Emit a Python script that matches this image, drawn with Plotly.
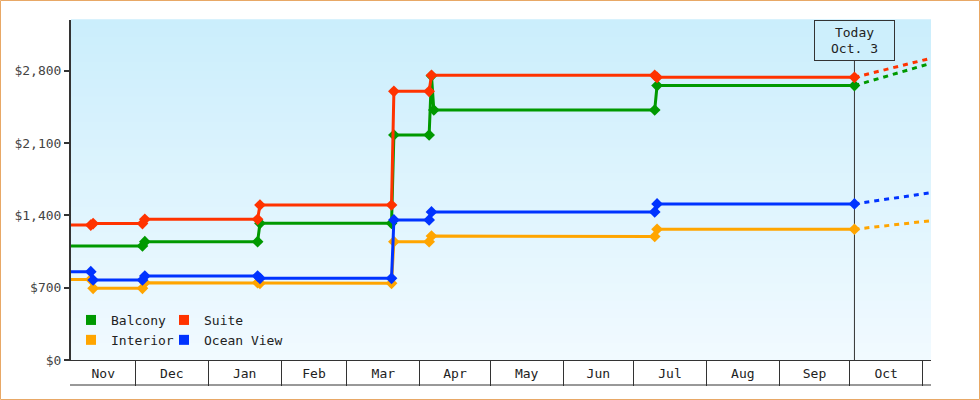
import pandas as pd
import plotly.graph_objects as go

# ---------------- data ----------------
series_names = ["Balcony", "Suite", "Interior", "Ocean View"]
series_colors = ["#009900", "#ff3300", "#ffa500", "#0033ff"]

balcony_dates = ["2024-11-03", "2024-12-04", "2024-12-05", "2025-01-22", "2025-01-23",
                 "2025-03-20", "2025-03-21", "2025-04-05", "2025-04-06", "2025-04-07",
                 "2025-07-10", "2025-07-11", "2025-10-03"]
balcony_prices = [1103, 1103, 1145, 1145, 1323, 1323, 2177, 2177, 2750, 2419, 2419, 2655, 2655]

suite_dates = ["2024-11-03", "2024-11-12", "2024-11-13", "2024-12-04", "2024-12-05",
               "2025-01-22", "2025-01-23", "2025-03-20", "2025-03-21", "2025-04-05",
               "2025-04-06", "2025-07-10", "2025-07-11", "2025-10-03"]
suite_prices = [1306, 1306, 1320, 1320, 1361, 1361, 1500, 1500, 2600, 2600, 2755, 2755, 2735, 2735]

interior_dates = ["2024-11-03", "2024-11-12", "2024-11-13", "2024-12-04", "2024-12-05",
                  "2025-01-22", "2025-01-23", "2025-03-20", "2025-03-21", "2025-04-05",
                  "2025-04-06", "2025-07-10", "2025-07-11", "2025-10-03"]
interior_prices = [780, 780, 694, 694, 748, 748, 742, 742, 1145, 1145, 1200, 1195, 1265, 1265]

ocean_dates = ["2024-11-03", "2024-11-12", "2024-11-13", "2024-12-04", "2024-12-05",
               "2025-01-22", "2025-01-23", "2025-03-20", "2025-03-21", "2025-04-05",
               "2025-04-06", "2025-07-10", "2025-07-11", "2025-10-03"]
ocean_prices = [855, 855, 774, 774, 813, 813, 790, 790, 1355, 1355, 1433, 1433, 1510, 1510]

# forecast (dashed) from today to the end of the visible range
today = "2025-10-03"
today_label = "Today<br>Oct. 3"
forecast_end = "2025-11-04 14:00"
forecast_end_prices = [2871, 2920, 1348, 1619]  # Balcony, Suite, Interior, Ocean View

month_labels = ["Nov", "Dec", "Jan", "Feb", "Mar", "Apr", "May", "Jun", "Jul", "Aug", "Sep", "Oct"]
y_ticks = [0, 700, 1400, 2100, 2800]
y_tick_labels = ["$0", "$700", "$1,400", "$2,100", "$2,800"]

x_range = ["2024-11-03 14:00", "2025-11-04 14:00"]
y_range = [0, 3290]

# ---------------- layout helpers ----------------
W, H = 980, 400
ML, MR, MT, MB = 71, 49, 20, 40
PW, PH = W - ML - MR, H - MT - MB
FONT = "DejaVu Sans Mono"
TXT = "#333333"

def px_x(px):
    return (px - ML) / PW

def px_y(py):
    return (H - MB - py) / PH

all_dates = [balcony_dates, suite_dates, interior_dates, ocean_dates]
all_prices = [balcony_prices, suite_prices, interior_prices, ocean_prices]

fig = go.Figure()

# dashed forecast first so markers sit on top
for name, color, d, p, fe in zip(series_names, series_colors, all_dates, all_prices, forecast_end_prices):
    fig.add_trace(go.Scatter(
        x=[d[-1], forecast_end], y=[p[-1], fe], mode="lines",
        line=dict(color=color, width=3, dash="5px,5px"),
        showlegend=False, legendgroup=name, hoverinfo="skip"))

for name, color, d, p in zip(series_names, series_colors, all_dates, all_prices):
    fig.add_trace(go.Scatter(
        x=d, y=p, mode="lines+markers", name=name,
        line=dict(color=color, width=3),
        marker=dict(symbol="diamond", size=9, color=color),
        cliponaxis=False, showlegend=False, legendgroup=name))

# legend entries (square swatches) split into two columns
legend_of = {"Balcony": "legend", "Interior": "legend", "Suite": "legend2", "Ocean View": "legend2"}
for name in ["Balcony", "Interior", "Suite", "Ocean View"]:
    color = series_colors[series_names.index(name)]
    fig.add_trace(go.Scatter(
        x=[None], y=[None], mode="markers", name=name,
        marker=dict(symbol="square", size=10, color=color),
        legendgroup=name, legend=legend_of[name], showlegend=True))

# gradient background
top_rgb = (203, 238, 252)
bot_rgb = (241, 250, 255)
n = 40
shapes = []
for i in range(n):
    t = i / (n - 1)
    c = tuple(round(bot_rgb[k] + (top_rgb[k] - bot_rgb[k]) * t) for k in range(3))
    shapes.append(dict(type="rect", xref="paper", yref="paper",
                       x0=0, x1=1, y0=i / n, y1=(i + 1) / n + 0.002,
                       fillcolor="rgb(%d,%d,%d)" % c, line=dict(width=0), layer="below"))
# today line
shapes.append(dict(type="line", xref="x", yref="paper", x0=today, x1=today, y0=0, y1=1,
                   line=dict(color=TXT, width=1), layer="below"))
# month box bottom line
shapes.append(dict(type="line", xref="paper", yref="paper", x0=px_x(70), x1=1,
                   y0=px_y(385), y1=px_y(385), line=dict(color=TXT, width=1)))
# outer frame
shapes.append(dict(type="rect", xref="paper", yref="paper",
                   x0=px_x(0.5), x1=px_x(979.5), y0=px_y(399.5), y1=px_y(0.5),
                   line=dict(color="#e8a866", width=1), fillcolor="rgba(0,0,0,0)"))

# month tick positions (centre of visible part of each month)
xs, xe = pd.Timestamp(x_range[0]), pd.Timestamp(x_range[1])
month_starts = pd.date_range("2024-11-01", "2025-11-01", freq="MS")
mids = []
for a, b in zip(month_starts[:-1], month_starts[1:]):
    a2, b2 = max(a, xs), min(b, xe)
    mids.append(a2 + (b2 - a2) / 2)
boundaries = list(month_starts[1:])

fig.update_layout(
    width=W, height=H,
    margin=dict(l=ML, r=MR, t=MT, b=MB, autoexpand=False),
    paper_bgcolor="white", plot_bgcolor="rgb(241,250,255)",
    font=dict(family=FONT, size=13, color=TXT),
    shapes=shapes,
    hovermode="closest",
    xaxis=dict(
        type="date", range=x_range, showgrid=False, zeroline=False,
        showline=True, linecolor=TXT, linewidth=1,
        tickmode="array", tickvals=mids, ticktext=month_labels,
        ticks="", ticklabelstandoff=1,
        tickfont=dict(family=FONT, size=13, color="#222"),
        minor=dict(tickmode="array", tickvals=boundaries, ticks="outside",
                   ticklen=25, tickwidth=1, tickcolor=TXT, showgrid=False),
    ),
    yaxis=dict(
        range=y_range, showgrid=False, zeroline=False,
        showline=True, linecolor=TXT, linewidth=2,
        tickmode="array", tickvals=y_ticks, ticktext=y_tick_labels,
        ticks="outside", ticklen=5, tickwidth=2, tickcolor=TXT,
        tickfont=dict(family=FONT, size=13, color="#444"),
    ),
    legend=dict(x=px_x(71), y=px_y(305), xanchor="left", yanchor="top",
                bgcolor="rgba(0,0,0,0)", orientation="v", tracegroupgap=0,
                font=dict(family=FONT, size=13, color="#222")),
    legend2=dict(x=px_x(164), y=px_y(305), xanchor="left", yanchor="top",
                 bgcolor="rgba(0,0,0,0)", orientation="v", tracegroupgap=0,
                 font=dict(family=FONT, size=13, color="#222")),
    annotations=[dict(
        x=today, y=1, xref="x", yref="paper", xanchor="center", yanchor="top",
        text=today_label, showarrow=False, align="center",
        width=77, height=37, borderpad=1, borderwidth=1, bordercolor=TXT,
        bgcolor="rgb(205,239,252)", font=dict(family=FONT, size=13, color="#222"))],
)

fig.write_html("out.html", config={"displayModeBar": False},
               post_script="document.body.style.margin='0px';")
